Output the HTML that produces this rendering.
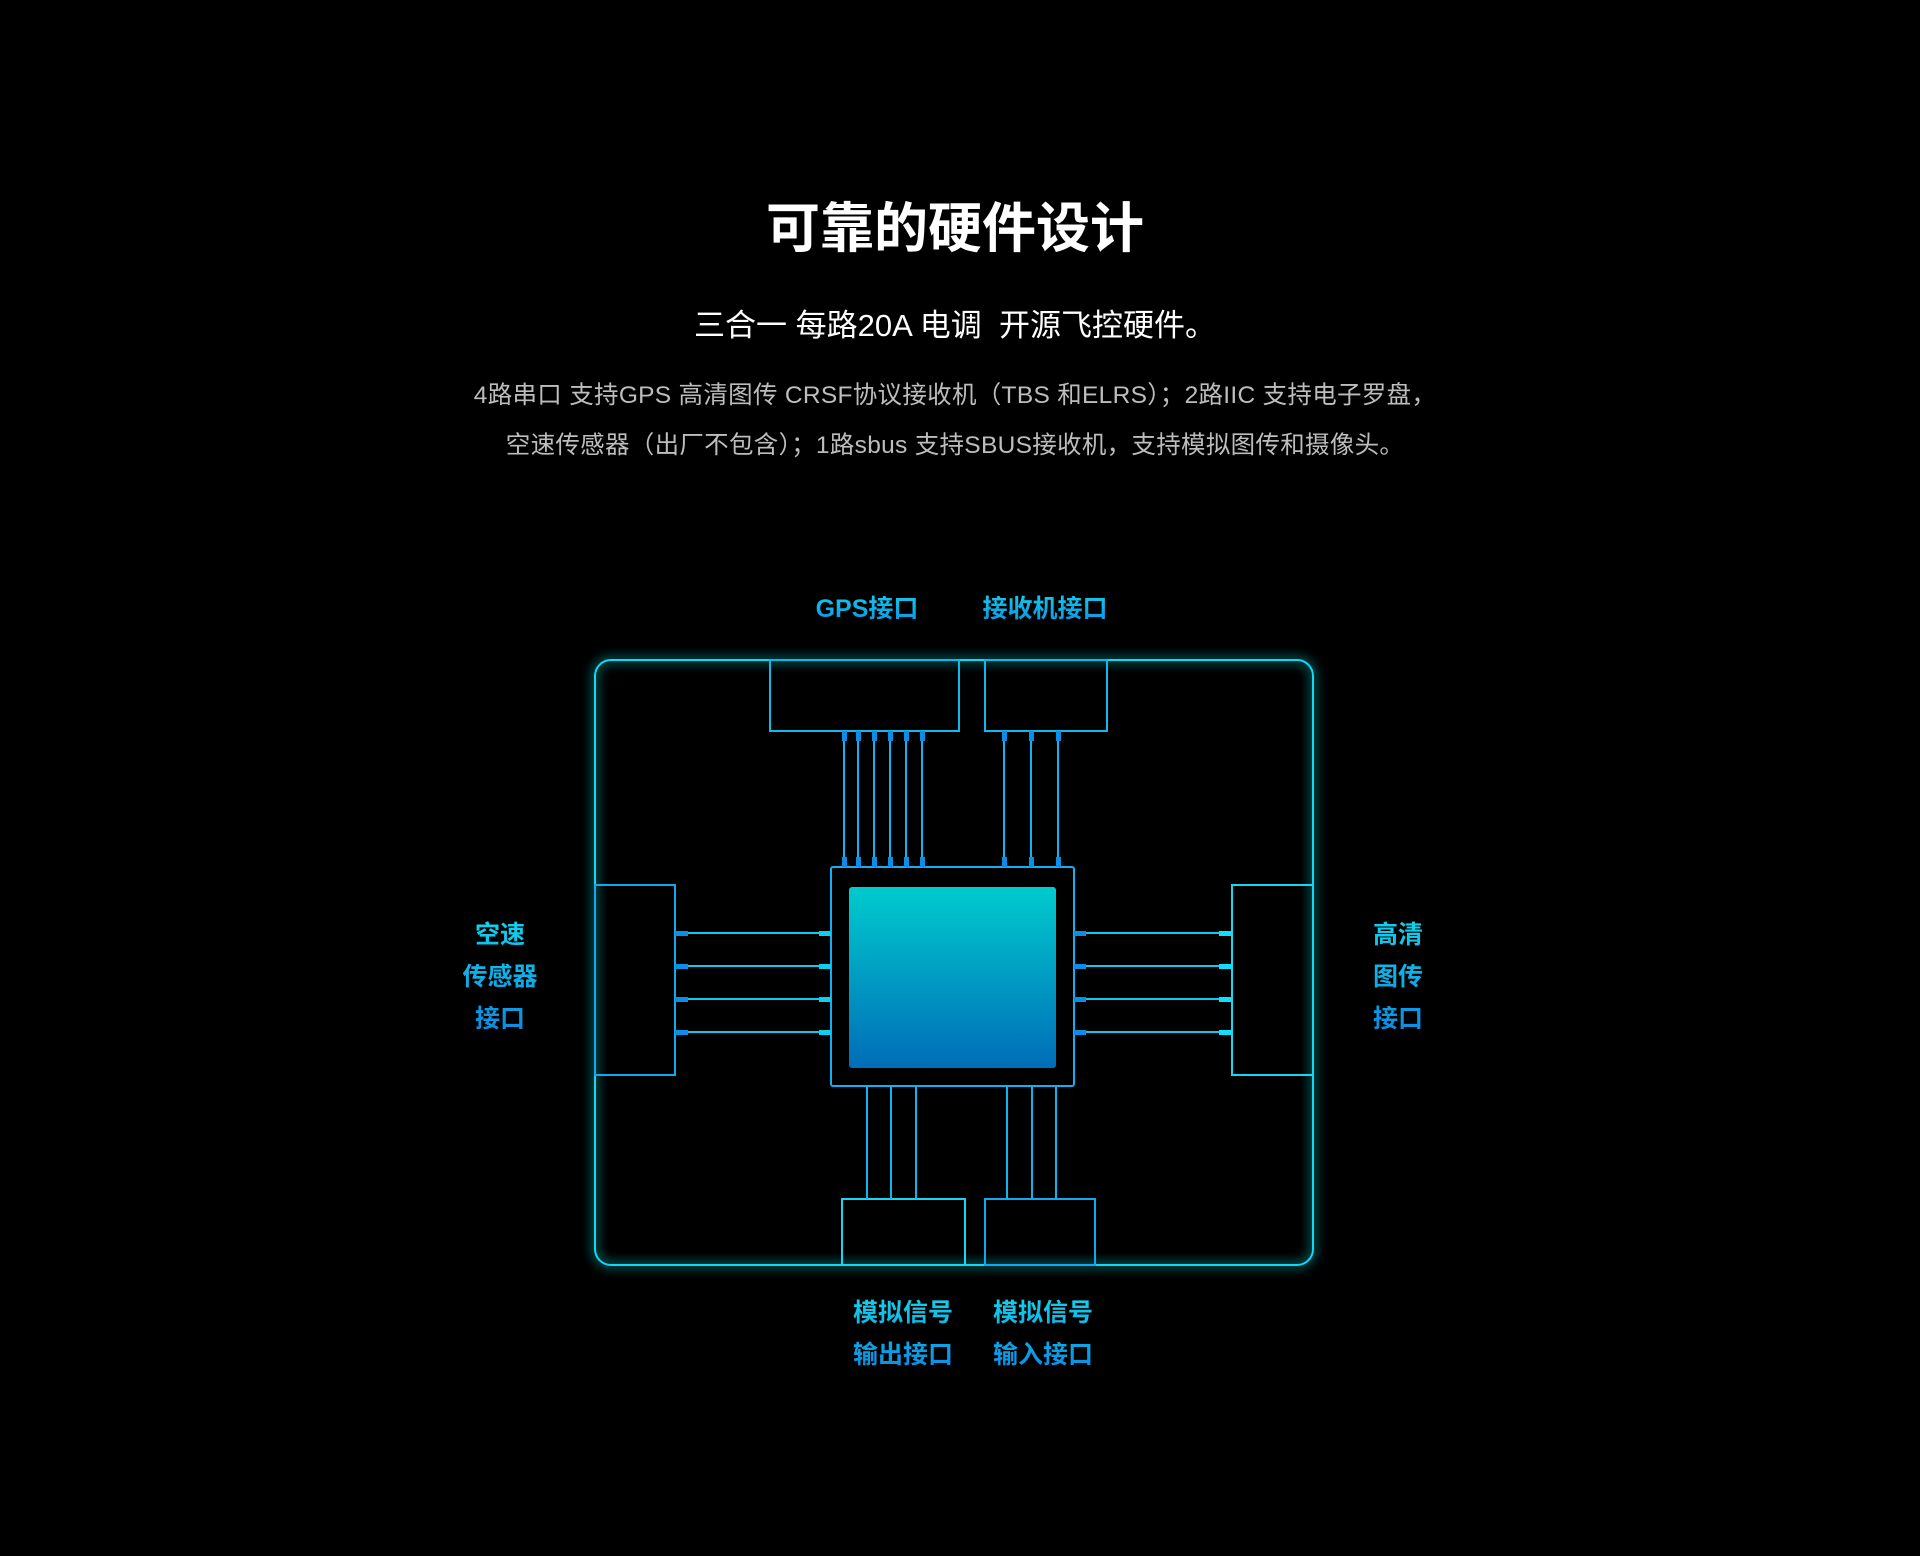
<!DOCTYPE html>
<html><head><meta charset="utf-8"><style>
html,body{margin:0;padding:0;background:#000;width:1920px;height:1556px;overflow:hidden}
body{position:relative;font-family:"Liberation Sans","Noto Sans CJK SC",sans-serif}
.t{position:absolute;left:0;width:1910px;text-align:center;white-space:nowrap}
.lb{position:absolute;font-weight:bold;font-size:25px;text-align:center;line-height:42px;
 background:linear-gradient(180deg,#13d6ee,#0a86e0);-webkit-background-clip:text;background-clip:text;color:transparent}
</style></head><body>
<div class="t" style="top:184px;font-size:54px;font-weight:bold;color:#fff">可靠的硬件设计</div>
<div class="t" style="top:300px;font-size:31px;color:#fff">三合一 每路20A 电调&nbsp; 开源飞控硬件。</div>
<div class="t" style="top:376px;font-size:24.5px;color:#bdbdbd;letter-spacing:0.3px">4路串口 支持GPS 高清图传 CRSF协议接收机（TBS 和ELRS）；2路IIC 支持电子罗盘，</div>
<div class="t" style="top:426px;font-size:24.5px;color:#bdbdbd;letter-spacing:0.3px">空速传感器（出厂不包含）；1路sbus 支持SBUS接收机，支持模拟图传和摄像头。</div>

<svg width="1920" height="1556" style="position:absolute;left:0;top:0">
<defs>
<linearGradient id="chip" x1="0" y1="0" x2="0" y2="1"><stop offset="0" stop-color="#00cbcd"/><stop offset="1" stop-color="#006db8"/></linearGradient>
<linearGradient id="topg" x1="0" y1="0" x2="1" y2="0"><stop offset="0" stop-color="#0ad"/><stop offset="0.3" stop-color="#e8ffff"/><stop offset="0.7" stop-color="#2af"/><stop offset="1" stop-color="#06a"/></linearGradient>
<linearGradient id="botg" x1="0" y1="0" x2="1" y2="0"><stop offset="0" stop-color="#036"/><stop offset="0.6" stop-color="#0af"/><stop offset="0.85" stop-color="#e8ffff"/><stop offset="1" stop-color="#4cf"/></linearGradient>
<filter id="bl" x="-20%" y="-20%" width="140%" height="140%"><feGaussianBlur stdDeviation="5"/></filter>
</defs>
<rect x="595" y="660" width="718" height="605" rx="16" fill="none" stroke="#0aa" stroke-width="8" opacity="0.5" filter="url(#bl)"/>
<line x1="620" y1="657" x2="1290" y2="657" stroke="url(#topg)" stroke-width="5" filter="url(#bl)"/>
<line x1="620" y1="1268" x2="1300" y2="1268" stroke="url(#botg)" stroke-width="6" filter="url(#bl)"/>
<g fill="none" stroke="#14d8f2" stroke-width="2">
<rect x="595" y="660" width="718" height="605" rx="16"/>
<rect x="770" y="660" width="189" height="71" stroke="#10b8f0"/>
<rect x="985" y="660" width="122" height="71" stroke="#10b8f0"/>
<rect x="595" y="885" width="80" height="190" stroke="#10a8f0"/>
<rect x="1232" y="885" width="81" height="190"/>
<rect x="831" y="867" width="243" height="219" rx="2" stroke="#10b0f4"/>
<rect x="842" y="1199" width="123" height="66"/>
<rect x="985" y="1199" width="110" height="66" stroke="#10a8f0"/>
</g>
<rect x="849" y="887" width="207" height="181" rx="3" fill="url(#chip)"/>
<g stroke="#10b4f0" stroke-width="2">
<line x1="844" y1="731" x2="844" y2="867"/><line x1="858" y1="731" x2="858" y2="867"/><line x1="874" y1="731" x2="874" y2="867"/>
<line x1="890" y1="731" x2="890" y2="867"/><line x1="906" y1="731" x2="906" y2="867"/><line x1="922" y1="731" x2="922" y2="867"/>
<line x1="1004" y1="731" x2="1004" y2="867"/><line x1="1031" y1="731" x2="1031" y2="867"/><line x1="1058" y1="731" x2="1058" y2="867"/>
<line x1="867" y1="1086" x2="867" y2="1199"/><line x1="891" y1="1086" x2="891" y2="1199"/><line x1="916" y1="1086" x2="916" y2="1199"/>
<line x1="1007" y1="1086" x2="1007" y2="1199"/><line x1="1032" y1="1086" x2="1032" y2="1199"/><line x1="1056" y1="1086" x2="1056" y2="1199"/>
</g>
<g fill="#0a8ee8">
<rect x="842" y="731" width="5" height="10"/><rect x="856" y="731" width="5" height="10"/><rect x="872" y="731" width="5" height="10"/><rect x="888" y="731" width="5" height="10"/><rect x="904" y="731" width="5" height="10"/><rect x="920" y="731" width="5" height="10"/>
<rect x="1002" y="731" width="5" height="10"/><rect x="1029" y="731" width="5" height="10"/><rect x="1056" y="731" width="5" height="10"/>
<rect x="842" y="857" width="5" height="10"/><rect x="856" y="857" width="5" height="10"/><rect x="872" y="857" width="5" height="10"/><rect x="888" y="857" width="5" height="10"/><rect x="904" y="857" width="5" height="10"/><rect x="920" y="857" width="5" height="10"/>
<rect x="1002" y="857" width="5" height="10"/><rect x="1029" y="857" width="5" height="10"/><rect x="1056" y="857" width="5" height="10"/>
</g>
<g stroke="#10c8f0" stroke-width="2">
<line x1="675" y1="933" x2="831" y2="933"/><line x1="675" y1="966" x2="831" y2="966"/><line x1="675" y1="999" x2="831" y2="999"/><line x1="675" y1="1032" x2="831" y2="1032"/>
<line x1="1074" y1="933" x2="1232" y2="933"/><line x1="1074" y1="966" x2="1232" y2="966"/><line x1="1074" y1="999" x2="1232" y2="999"/><line x1="1074" y1="1032" x2="1232" y2="1032"/>
</g>
<g fill="#0a8ee8">
<rect x="675" y="931" width="13" height="5"/><rect x="675" y="964" width="13" height="5"/><rect x="675" y="997" width="13" height="5"/><rect x="675" y="1030" width="13" height="5"/>
<rect x="819" y="931" width="12" height="5" fill="#1ce"/><rect x="819" y="964" width="12" height="5" fill="#1ce"/><rect x="819" y="997" width="12" height="5" fill="#1ce"/><rect x="819" y="1030" width="12" height="5" fill="#1ce"/>
<rect x="1074" y="931" width="12" height="5"/><rect x="1074" y="964" width="12" height="5"/><rect x="1074" y="997" width="12" height="5"/><rect x="1074" y="1030" width="12" height="5"/>
<rect x="1219" y="931" width="13" height="5" fill="#1df"/><rect x="1219" y="964" width="13" height="5" fill="#1df"/><rect x="1219" y="997" width="13" height="5" fill="#1df"/><rect x="1219" y="1030" width="13" height="5" fill="#1df"/>
</g>
</svg>

<div class="lb" style="left:767px;top:588px;width:200px">GPS接口</div>
<div class="lb" style="left:945px;top:588px;width:200px">接收机接口</div>
<div class="lb" style="left:420px;top:914px;width:160px">空速<br>传感器<br>接口</div>
<div class="lb" style="left:1318px;top:914px;width:160px">高清<br>图传<br>接口</div>
<div class="lb" style="left:803px;top:1292px;width:200px">模拟信号<br>输出接口</div>
<div class="lb" style="left:943px;top:1292px;width:200px">模拟信号<br>输入接口</div>
</body></html>
